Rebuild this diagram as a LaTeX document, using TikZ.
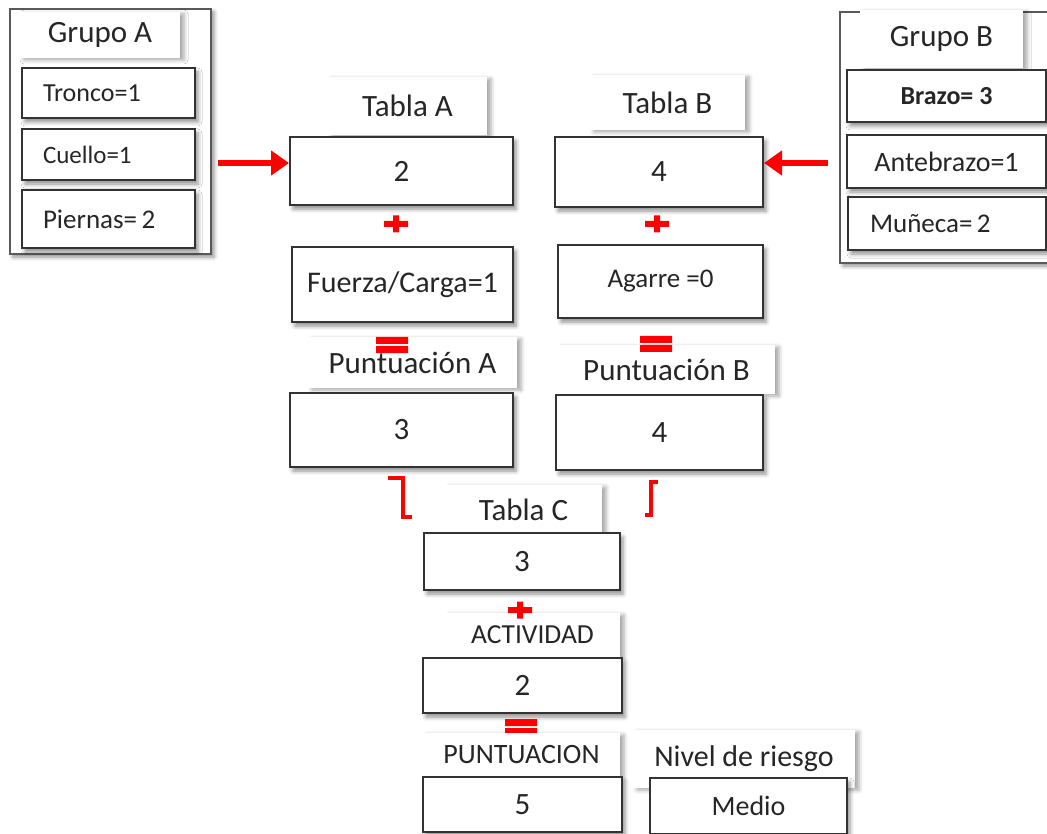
\documentclass[tikz,border=0pt]{standalone}
\usepackage{fontspec}
\setmainfont{Carlito}
\usetikzlibrary{arrows.meta,shadows.blur}

% font sizes (1pt = 1 unit of the picture)
\newcommand\fbig{\fontsize{31}{34}\selectfont}
\newcommand\fmid{\fontsize{28}{31}\selectfont}
\newcommand\fsmall{\fontsize{26}{29}\selectfont}

\tikzset{
  grp/.style={draw=black!65, line width=1.6pt, fill=white,
    blur shadow={shadow xshift=3pt, shadow yshift=-3pt, shadow blur radius=4pt, shadow opacity=45}},
  lbl/.style={fill=white, inner sep=0pt, text=black!85, font=\fbig,
    blur shadow={shadow xshift=4pt, shadow yshift=-2pt, shadow blur radius=4pt, shadow opacity=35}},
  val/.style={draw=black!80, line width=2pt, fill=white, inner sep=0pt, text=black!85, font=\fbig,
    blur shadow={shadow xshift=3pt, shadow yshift=-4pt, shadow blur radius=4pt, shadow opacity=45}},
  item/.style={val, align=left, inner xsep=21pt, text width=131pt},
  redarr/.style={red, line width=6pt, -{Triangle[length=18pt,width=24pt]}},
  brk/.style={red, line width=4pt},
  plus/.pic={\fill[red] (-12,-3) rectangle (12,3) (-3,-8.5) rectangle (3,8.5);},
  equal/.pic={\fill[red] (-16,-8) rectangle (16,-1) (-16,1) rectangle (16,8);},
}

\begin{document}
\begin{tikzpicture}[x=1pt,y=-1pt]
  \useasboundingbox (0,0) rectangle (1047,834);

  % Grupo A
  \node[grp, minimum width=201pt, minimum height=245pt] (grpA) at (110.5,131.5) {};
  \node[lbl, minimum width=160pt, minimum height=46pt] (lgA) at (100,35) {Grupo A};
  \node[item, minimum height=50pt, font=\fsmall] (tron) at (108.5,93) {Tronco=1};
  \node[item, minimum height=51pt, font=\fontsize{25}{28}\selectfont] (cue) at (108.5,154.5) {Cuello=1};
  \node[item, minimum height=58pt, font=\fontsize{27}{30}\selectfont] (pier) at (108.5,219) {Piernas=\,2};

  % Grupo B
  \node[grp, minimum width=212pt, minimum height=251pt] (grpB) at (946,137.5) {};
  \node[lbl, minimum width=163pt, minimum height=58pt] (lgB) at (941.5,39) {Grupo B};
  \node[val, minimum width=199pt, minimum height=52pt, font=\fsmall\bfseries] (braz) at (946.5,96) {Brazo= 3};
  \node[val, minimum width=199pt, minimum height=53pt, font=\fmid] (ante) at (946.5,161.5) {Antebrazo=1};
  \node[val, minimum width=198pt, minimum height=53pt, font=\fontsize{27}{30}\selectfont, align=left,
    inner xsep=22pt, text width=154pt] (mun) at (947,223.5) {Muñeca=\,2};

  % Tabla A
  \node[lbl, minimum width=159pt, minimum height=58pt] (ltA) at (407.5,106) {Tabla A};
  \node[val, minimum width=223pt, minimum height=68pt] (tA) at (401.5,171) {2};
  \node[val, minimum width=221pt, minimum height=75pt, font=\fontsize{30}{33}\selectfont] (fza) at (402.5,284.5) {Fuerza/Carga=1};
  \pic at (396,224) {plus};
  \node[lbl, minimum width=209pt, minimum height=51pt] (lpA) at (412.5,362.5) {Puntuación A};
  \pic at (392,345) {equal};
  \node[val, minimum width=223pt, minimum height=74pt] (pA) at (401.5,430) {3};

  % Tabla B
  \node[lbl, minimum width=155pt, minimum height=55pt] (ltB) at (667.5,102.5) {Tabla B};
  \node[val, minimum width=208pt, minimum height=70pt] (tB) at (659,172) {4};
  \node[val, minimum width=205pt, minimum height=73pt, font=\fontsize{27}{30}\selectfont] (agr) at (660.5,281.5) {Agarre =0};
  \pic at (657,224) {plus};
  \node[lbl, minimum width=217pt, minimum height=49pt, text depth=0pt] (lpB) at (666.5,369.5) {Puntuación B};
  \pic at (656,344) {equal};
  \node[val, minimum width=207pt, minimum height=75pt] (pB) at (659.5,432.5) {4};

  % arrows from the groups
  \coordinate (aA) at (218,163);
  \coordinate (aB) at (828,163);
  \draw[redarr] (aA) -- (aA -| tA.west);
  \draw[redarr] (aB) -- (aB -| tB.east);

  % brackets
  \draw[brk] (388,478) -- (403,478) -- (403,517) -- (412,517);
  \draw[brk] (658,482) -- (651,482) -- (651,515) -- (645,515);

  % Tabla C
  \node[lbl, minimum width=157pt, minimum height=50pt] (ltC) at (523.5,510) {Tabla C};
  \node[val, minimum width=196pt, minimum height=57pt] (tC) at (522,561.5) {3};
  \node[lbl, minimum width=175pt, minimum height=44pt, font=\fontsize{27.5}{30}\selectfont] (lact) at (532.5,635) {ACTIVIDAD};
  \pic at (520,610) {plus};
  \node[val, minimum width=199pt, minimum height=55pt] (act) at (522.5,685.5) {2};
  \pic at (521,727) {equal};
  \node[lbl, minimum width=197pt, minimum height=44pt, font=\fmid] (lpun) at (521.5,755) {PUNTUACION};
  \node[val, minimum width=199pt, minimum height=55pt] (pun) at (522.5,804.5) {5};

  % Nivel de riesgo
  \node[lbl, minimum width=222pt, minimum height=58pt, font=\fontsize{30}{33}\selectfont] (lniv) at (744,759) {Nivel de riesgo};
  \node[val, minimum width=197pt, minimum height=56pt, font=\fmid] (niv) at (748.5,806) {Medio};
\end{tikzpicture}
\end{document}
